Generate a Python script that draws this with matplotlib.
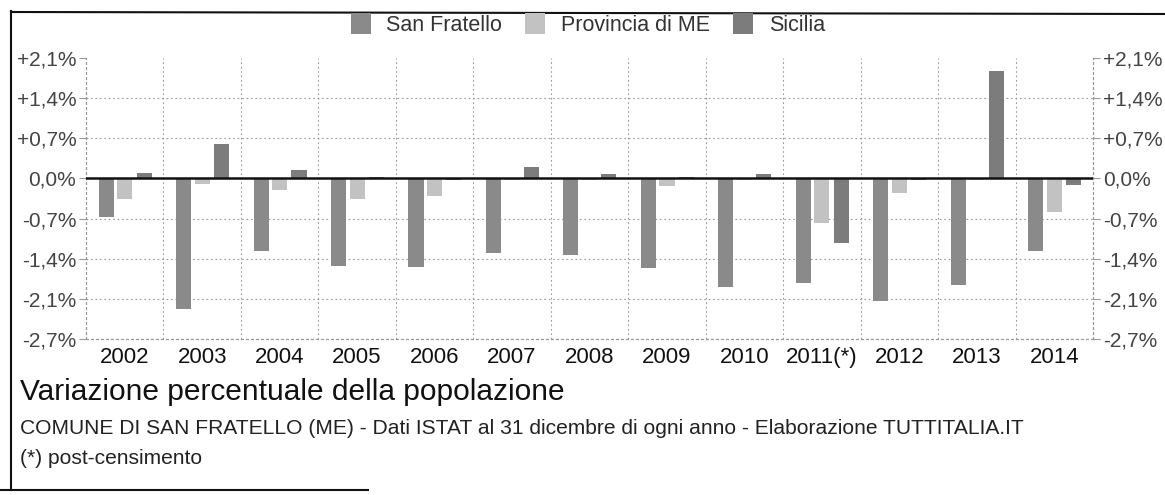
import numpy as np
import matplotlib
matplotlib.use("Agg")
import matplotlib.pyplot as plt
from matplotlib.lines import Line2D

plt.rcParams["font.family"] = ["Liberation Sans", "DejaVu Sans"]

# values (percent change per year)
years = ["2002", "2003", "2004", "2005", "2006", "2007", "2008",
         "2009", "2010", "2011(*)", "2012", "2013", "2014"]
san_fratello = [-0.68, -2.28, -1.27, -1.52, -1.54, -1.30, -1.33,
                -1.57, -1.89, -1.83, -2.14, -1.86, -1.27]
provincia_me = [-0.35, -0.10, -0.20, -0.35, -0.30, -0.03, -0.03,
                -0.13, -0.02, -0.77, -0.26, -0.03, -0.58]
sicilia = [0.10, 0.60, 0.15, 0.03, -0.02, 0.20, 0.08,
           0.03, 0.07, -1.12, -0.03, 1.88, -0.12]

tick_vals = [2.1, 1.4, 0.7, 0.0, -0.7, -1.4, -2.1, -2.8]
tick_text = ["+2,1%", "+1,4%", "+0,7%", "0,0%", "-0,7%", "-1,4%", "-2,1%", "-2,7%"]

fig = plt.figure(figsize=(11.65, 4.95), dpi=100)
W, H = 1165, 495
ax = fig.add_axes([86 / W, 1 - 339 / H, (1093 - 86) / W, 281 / H])

x = np.arange(len(years))
bw = 0.195
b1 = ax.bar(x - 0.24, san_fratello, bw, color="#8a8a8a", label="San Fratello")
b2 = ax.bar(x, provincia_me, bw, color="#c2c2c2", label="Provincia di ME")
b3 = ax.bar(x + 0.25, sicilia, bw, color="#7c7c7c", label="Sicilia")

ax.set_xlim(-0.5, len(years) - 0.5)
ax.set_ylim(-2.8, 2.1)
ax.set_yticks(tick_vals)
ax.set_yticklabels(tick_text)
ax.set_xticks(x)
ax.set_xticklabels(years)

ax.tick_params(axis="x", which="both", length=0, labelsize=16, pad=6, colors="#111111")
ax.tick_params(axis="y", length=5, color="#999999", labelsize=15, labelcolor="#444444",
               left=True, right=True, labelleft=True, labelright=True, pad=2)

for v in tick_vals[1:-1]:
    if v != 0:
        ax.axhline(v, color="#999999", lw=0.8, ls=(0, (1.5, 2.5)), zorder=0)
for xm in np.arange(0.5, len(years) - 0.5, 1):
    ax.axvline(xm, color="#999999", lw=0.8, ls=(0, (1.5, 2.5)), zorder=0)
ax.axhline(0, color="#111111", lw=1.8, zorder=3)

ax.spines["top"].set_visible(False)
for s in ["left", "right", "bottom"]:
    ax.spines[s].set_color("#999999")
    ax.spines[s].set_linestyle((0, (1.5, 2.5)))
    ax.spines[s].set_linewidth(0.9)

fig.legend(handles=[b1, b2, b3], loc="center", bbox_to_anchor=(588 / W, 1 - 24.5 / H),
           ncol=3, frameon=False, fontsize=15.5, handlelength=0.93, handleheight=1.07,
           handletextpad=0.74, columnspacing=1.07, borderpad=0, labelcolor="#333333")

fig.text(20 / W, 1 - 392 / H, "Variazione percentuale della popolazione",
         fontsize=21.5, va="center", ha="left", color="#111111")
fig.text(20 / W, 1 - 429 / H,
         "COMUNE DI SAN FRATELLO (ME) - Dati ISTAT al 31 dicembre di ogni anno - Elaborazione TUTTITALIA.IT",
         fontsize=15.1, va="center", ha="left", color="#222222")
fig.text(20 / W, 1 - 459 / H, "(*) post-censimento",
         fontsize=15.1, va="center", ha="left", color="#222222")

# scan frame
fig.add_artist(Line2D([11 / W, 11 / W], [1 - 11 / H, 1 - 490 / H], color="#111111", lw=1.5))
fig.add_artist(Line2D([11 / W, 1.0], [1 - 12 / H, 1 - 14 / H], color="#111111", lw=1.5))
fig.add_artist(Line2D([0, 368 / W], [1 - 490 / H, 1 - 490 / H], color="#111111", lw=1.5))

fig.savefig("out.png", dpi=100)
